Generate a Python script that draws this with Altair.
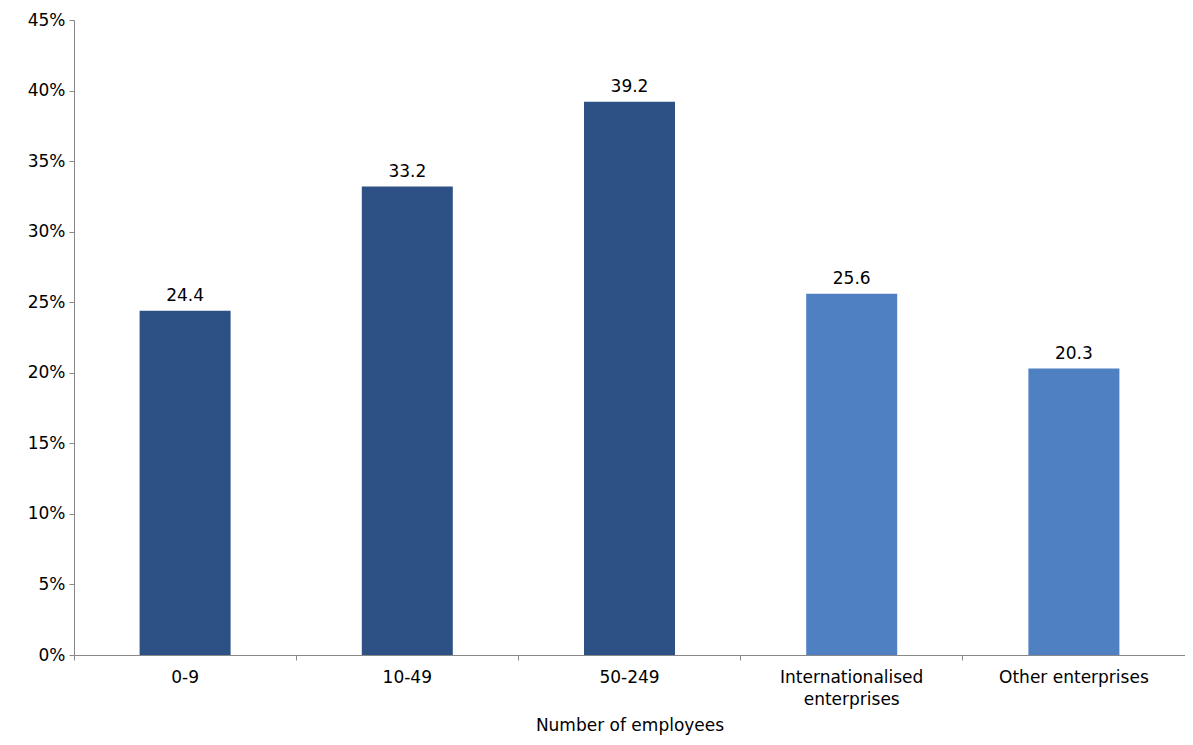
import altair as alt
import pandas as pd

categories = ["0-9", "10-49", "50-249", "Internationalised enterprises", "Other enterprises"]
values = [24.4, 33.2, 39.2, 25.6, 20.3]
groups = ["size", "size", "size", "type", "type"]

df = pd.DataFrame({"category": categories, "value": values, "group": groups})

font = "DejaVu Sans"

x_enc = alt.X("category:N", sort=categories, title="Number of employees",
              scale=alt.Scale(paddingInner=0, paddingOuter=0),
              axis=alt.Axis(labelAngle=0, bandPosition=0,
                            labelExpr="datum.label == 'Internationalised enterprises' ? ['Internationalised', 'enterprises'] : datum.label"))
y_enc = alt.Y("value:Q", title=None,
              scale=alt.Scale(domain=[0, 45]),
              axis=alt.Axis(values=list(range(0, 50, 5)), labelExpr="datum.value + '%'"))

bars = alt.Chart(df).mark_bar(size=91).encode(
    x=x_enc,
    y=y_enc,
    color=alt.Color("group:N", scale=alt.Scale(domain=["size", "type"], range=["#2E5185", "#4F81C2"]),
                    legend=None),
)

labels = alt.Chart(df).mark_text(dy=-15, fontSize=17, font=font, color="#000").encode(
    x=x_enc,
    y=y_enc,
    text=alt.Text("value:Q", format=".1f"),
)

chart = (bars + labels).properties(
    width=1111, height=635,
    autosize=alt.AutoSizeParams(type="none"),
    padding={"left": 66, "top": 12, "right": 0, "bottom": 82},
    background="white",
).configure_axis(
    grid=False, tickColor="#888", domainColor="#888", tickSize=5,
    labelFontSize=17, titleFontSize=17, labelColor="#000", titleColor="#000",
    titleFontWeight="normal", labelFont=font, titleFont=font,
).configure_axisX(labelPadding=9, titlePadding=10, labelLineHeight=22).configure_axisY(labelPadding=4
).configure_view(strokeWidth=0)

chart.save("out.html", embed_options={"renderer": "svg", "actions": False})
